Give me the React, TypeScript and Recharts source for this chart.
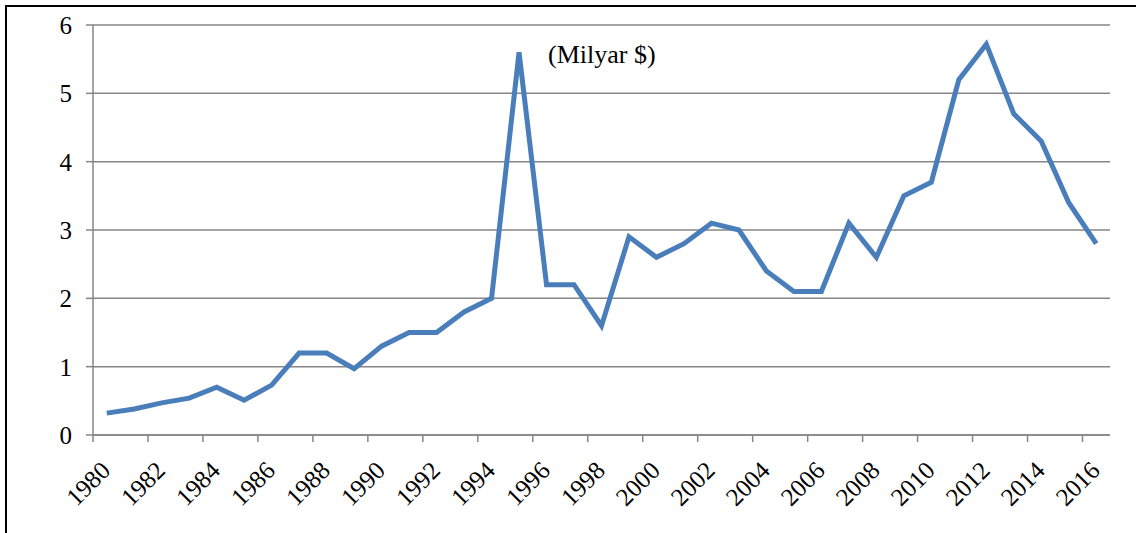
import React from 'react';
import { LineChart, Line, XAxis, YAxis, CartesianGrid } from 'recharts';

const years: string[] = [
  '1980', '1981', '1982', '1983', '1984', '1985', '1986', '1987', '1988', '1989',
  '1990', '1991', '1992', '1993', '1994', '1995', '1996', '1997', '1998', '1999',
  '2000', '2001', '2002', '2003', '2004', '2005', '2006', '2007', '2008', '2009',
  '2010', '2011', '2012', '2013', '2014', '2015', '2016',
];

const values: number[] = [
  0.32, 0.38, 0.47, 0.54, 0.7, 0.51, 0.73, 1.2, 1.2, 0.97,
  1.3, 1.5, 1.5, 1.8, 2.0, 5.6, 2.2, 2.2, 1.6, 2.9,
  2.6, 2.8, 3.1, 3.0, 2.4, 2.1, 2.1, 3.1, 2.6, 3.5,
  3.7, 5.2, 5.72, 4.7, 4.3, 3.4, 2.8,
];

const yTicks: number[] = [0, 1, 2, 3, 4, 5, 6];
const unitLabel = '(Milyar $)';

const data = years.map((year, i) => ({ year, value: values[i] }));

const W = 1136;
const H = 533;
const M_TOP = 25;
const M_RIGHT = 26;
const Y_W = 93;
const X_H = 98;
const plotWidth = W - Y_W - M_RIGHT;
const half = plotWidth / years.length / 2;

const FONT = '"Liberation Serif", "Times New Roman", serif';
const AXIS = '#868686';

const XTick = (props: any) => {
  const { x, y, payload } = props;
  const ax = x + 5;
  const ay = y + 37;
  return (
    <g>
      <line x1={x - half} x2={x - half} y1={y} y2={y + 7} stroke={AXIS} strokeWidth={1.5} />
      <text
        x={ax}
        y={ay}
        textAnchor="end"
        transform={`rotate(-45, ${ax}, ${ay})`}
        fontFamily={FONT}
        fontSize={25}
        fill="#000"
      >
        {payload.value}
      </text>
    </g>
  );
};

export default function App() {
  return (
    <div style={{ position: 'absolute', left: 0, top: 0, width: W, height: H, background: '#fff' }}>
      <div style={{ position: 'absolute', left: 5, top: 5, width: 2, height: H - 5, background: '#000' }} />
      <div style={{ position: 'absolute', left: 5, top: 5, width: W - 5, height: 2, background: '#000' }} />
      <LineChart width={W} height={H} data={data} margin={{ top: M_TOP, right: M_RIGHT, left: 0, bottom: 0 }}>
        <CartesianGrid vertical={false} stroke={AXIS} strokeWidth={1.5} />
        <XAxis
          dataKey="year"
          interval={1}
          padding={{ left: half, right: half }}
          height={X_H}
          tickLine={false}
          tickSize={0}
          tickMargin={0}
          axisLine={{ stroke: AXIS, strokeWidth: 1.5 }}
          tick={<XTick />}
        />
        <YAxis
          domain={[0, 6]}
          ticks={yTicks}
          width={Y_W}
          tickSize={7}
          tickMargin={14}
          axisLine={{ stroke: AXIS, strokeWidth: 1.5 }}
          tickLine={{ stroke: AXIS, strokeWidth: 1.5 }}
          tick={{ fill: '#000', fontSize: 25, fontFamily: FONT }}
        />
        <Line
          type="linear"
          dataKey="value"
          stroke="#4a7ebb"
          strokeWidth={5}
          dot={false}
          isAnimationActive={false}
        />
      </LineChart>
      <div
        style={{
          position: 'absolute',
          left: 548,
          top: 42,
          fontFamily: FONT,
          fontSize: 26,
          lineHeight: '26px',
          color: '#000',
          whiteSpace: 'nowrap',
        }}
      >
        {unitLabel}
      </div>
    </div>
  );
}
